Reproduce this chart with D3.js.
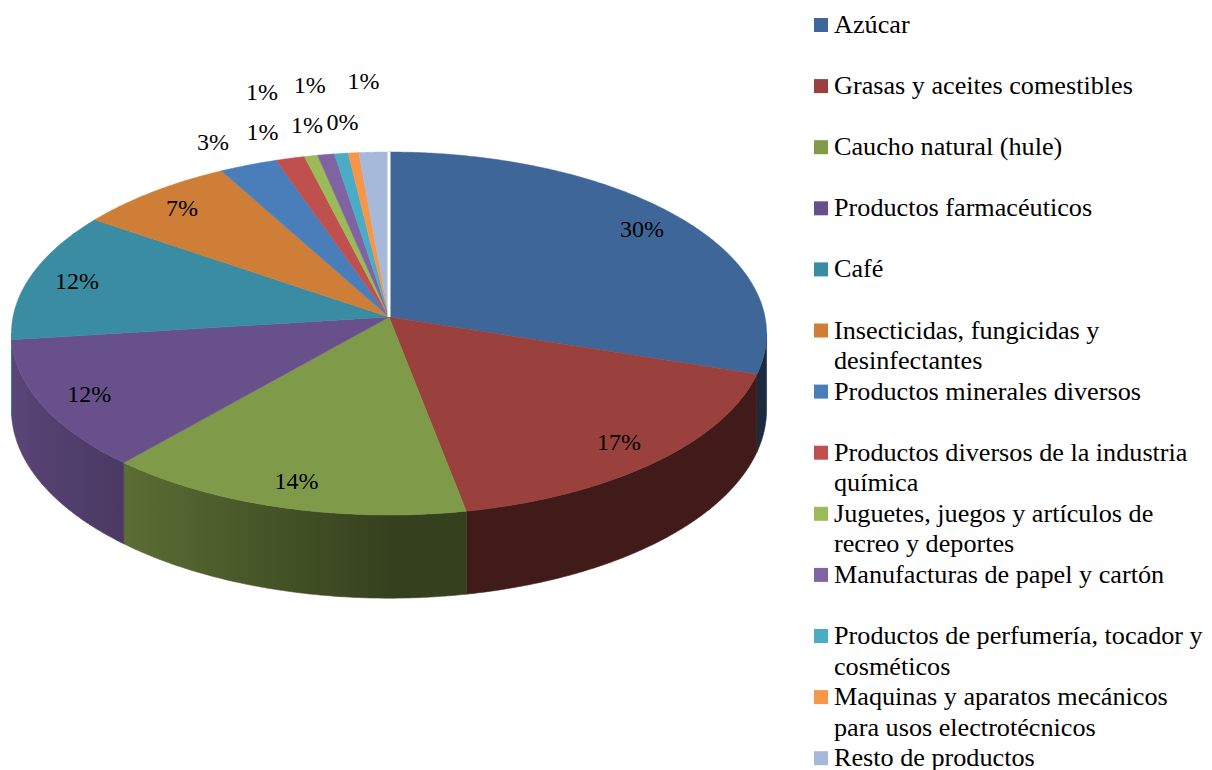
<!DOCTYPE html>
<html><head><meta charset="utf-8">
<script src="https://cdn.jsdelivr.net/npm/d3@7"></script>
<style>body{margin:0;background:#fff}svg{display:block}</style>
</head><body>
<svg id="chart" width="1212" height="770"></svg>
<script>
const categories = [
  "Azúcar",
  "Grasas y aceites comestibles",
  "Caucho natural (hule)",
  "Productos farmacéuticos",
  "Café",
  "Insecticidas, fungicidas y desinfectantes",
  "Productos minerales diversos",
  "Productos diversos de la industria química",
  "Juguetes, juegos y artículos de recreo y deportes",
  "Manufacturas de papel y cartón",
  "Productos de perfumería, tocador y cosméticos",
  "Maquinas y aparatos mecánicos para usos electrotécnicos",
  "Resto de productos"
];
const values = [30.0, 17.0, 14.4, 11.6, 11.6, 7.4, 2.7, 1.35, 0.62, 0.79, 0.64, 0.49, 1.4];
const colors = ["#3e6698", "#9a403d", "#7f9a48", "#68508a", "#3a8ca2", "#cf7e37",
                "#4a7ebb", "#c0504d", "#9bbb59", "#8064a2", "#4bacc6", "#f79646", "#a7b9da"];

const FONT = "'Liberation Serif','Times New Roman',serif";
const svg = d3.select("#chart");
const defs = svg.append("defs");

// projection of the tilted disc (perspective)
const cx = 389, cy = 317, rx = 376, ry = 180, persp = 0.0909, depth = 75.6;
function proj(theta, r, z) {
  const X = r * Math.sin(theta), Y = -r * Math.cos(theta);
  const s = 1 / (1 - persp * Y);
  return [cx + rx * X * s, cy + ry * Y * s + z * depth * s];
}

const total = d3.sum(values);
const pie = d3.pie().sort(null).value(d => d.v);
const arcs = pie(categories.map((c, i) => ({c, v: values[i], color: colors[i], i})));
const pct = d => Math.round(d.data.v / total * 100) + "%";
const line = d3.line();

// lighting for side walls
function shade(col, theta) {
  const f = 0.42 + 0.45 * Math.max(0, Math.cos(theta - 1.5 * Math.PI));
  const c = d3.rgb(col);
  return d3.rgb(c.r * f, c.g * f, c.b * f).formatHex();
}

// front-facing range of the outer wall (between rightmost and leftmost silhouette points)
let thR = 0, thL = 0, maxX = -1e9, minX = 1e9;
for (let k = 0; k <= 3600; k++) {
  const t = k / 3600 * 2 * Math.PI;
  const x = proj(t, 1, 0)[0];
  if (x > maxX) { maxX = x; thR = t; }
  if (x < minX) { minX = x; thL = t; }
}

// side walls (one path per slice, shaded with a gradient)
const wallG = svg.append("g");
arcs.forEach((a, i) => {
  const t0 = Math.max(a.startAngle, thR), t1 = Math.min(a.endAngle, thL);
  if (t1 <= t0) return;
  const n = Math.max(2, Math.ceil((t1 - t0) / (Math.PI / 360)));
  const topPts = [], botPts = [];
  for (let k = 0; k <= n; k++) {
    const t = t0 + (t1 - t0) * k / n;
    topPts.push(proj(t, 1, 0));
    botPts.push(proj(t, 1, 1));
  }
  const xs = proj(t0, 1, 0)[0], xe = proj(t1, 1, 0)[0];
  const gid = "wall" + i;
  const grad = defs.append("linearGradient").attr("id", gid)
    .attr("gradientUnits", "userSpaceOnUse")
    .attr("x1", xs).attr("y1", 0).attr("x2", xe).attr("y2", 0);
  const m = 24;
  for (let k = 0; k <= m; k++) {
    const t = t0 + (t1 - t0) * k / m;
    const x = proj(t, 1, 0)[0];
    const off = Math.abs(xe - xs) < 1e-6 ? 0 : (x - xs) / (xe - xs);
    grad.append("stop").attr("offset", Math.min(1, Math.max(0, off))).attr("stop-color", shade(a.data.color, t));
  }
  wallG.append("path")
    .attr("d", line(topPts.concat(botPts.reverse())) + "Z")
    .attr("fill", `url(#${gid})`)
    .attr("stroke", `url(#${gid})`)
    .attr("stroke-width", 0.6);
});

// top faces
function topPath(a) {
  const pts = [proj(0, 0, 0)];
  const n = Math.max(2, Math.ceil((a.endAngle - a.startAngle) / (Math.PI / 360)));
  for (let k = 0; k <= n; k++) pts.push(proj(a.startAngle + (a.endAngle - a.startAngle) * k / n, 1, 0));
  return line(pts) + "Z";
}
svg.append("g").selectAll("path").data(arcs).join("path")
  .attr("d", topPath)
  .attr("fill", d => d.data.color)
  .attr("stroke", d => d.data.color)
  .attr("stroke-width", 0.5);

// white seam at start
svg.append("path")
  .attr("d", line([proj(0, 0, 0), proj(0, 1, 0)]))
  .attr("stroke", "#fff").attr("stroke-width", 3);

// data labels
const lab = svg.append("g").attr("font-family", FONT).attr("font-size", 24).attr("fill", "#000");
const placed = [];
arcs.forEach(a => {
  const mid = (a.startAngle + a.endAngle) / 2;
  const share = a.data.v / total;
  const t = lab.append("text").text(pct(a)).attr("text-anchor", "middle").attr("dy", "0.35em");
  if (share >= 0.05) {
    const [x, y] = proj(mid, 0.87, 0);
    t.attr("x", x).attr("y", y);
  } else {
    const w = t.node().getComputedTextLength(), h = 16;
    const e = proj(mid, 1, 0);
    let dx = e[0] - cx, dy = e[1] - cy;
    const L = Math.hypot(dx, dy); dx /= L; dy /= L;
    let g = 24, bx, by;
    for (let it = 0; it < 20; it++) {
      bx = e[0] + dx * (g * 1.5 + w / 2);
      by = e[1] + dy * (g + h / 2);
      const box = [bx - w / 2, by - h / 2, bx + w / 2, by + h / 2];
      const hit = placed.some(p => !(box[2] < p[0] || box[0] > p[2] || box[3] < p[1] || box[1] > p[3]));
      if (!hit) { placed.push(box); break; }
      g += 40;
    }
    t.attr("x", bx).attr("y", by);
  }
});

// legend
const lg = svg.append("g").attr("font-family", FONT).attr("font-size", 26.2).attr("fill", "#000");
const maxW = 380;
categories.forEach((c, i) => {
  const base = 33 + i * 61.1;
  lg.append("rect").attr("x", 814).attr("y", base - 15).attr("width", 14).attr("height", 14).attr("fill", colors[i]);
  const words = c.split(" ");
  const lines = [];
  let cur = "";
  const probe = lg.append("text").attr("x", -1000).attr("y", -1000);
  words.forEach(wd => {
    const test = cur ? cur + " " + wd : wd;
    probe.text(test);
    if (probe.node().getComputedTextLength() > maxW && cur) { lines.push(cur); cur = wd; }
    else cur = test;
  });
  lines.push(cur);
  probe.remove();
  lines.forEach((ln, j) => {
    lg.append("text").attr("x", 834).attr("y", base + j * 30.5).text(ln);
  });
});
</script>
</body></html>
